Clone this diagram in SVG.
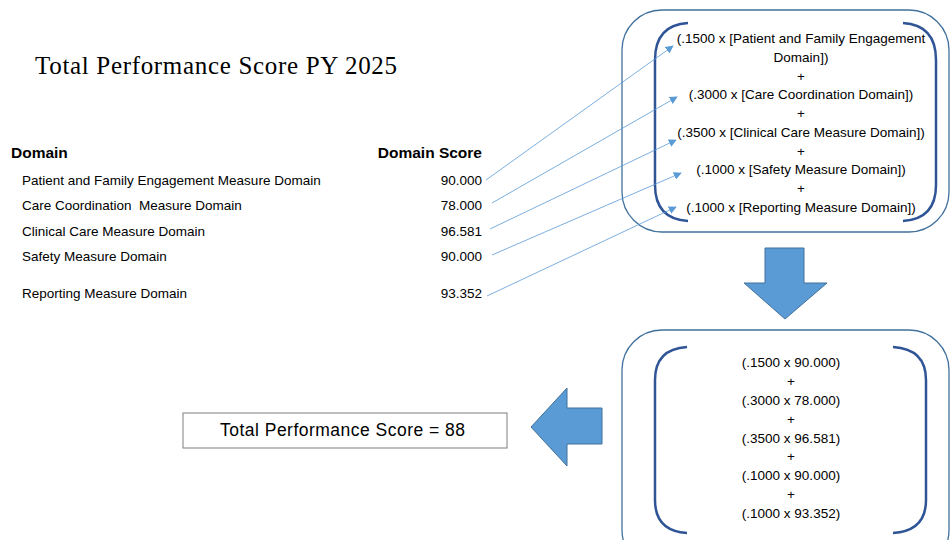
<svg xmlns="http://www.w3.org/2000/svg" width="950" height="540" viewBox="0 0 950 540">
<defs>
<marker id="ah" viewBox="0 0 10 10" refX="9" refY="5" markerWidth="8" markerHeight="8" markerUnits="userSpaceOnUse" orient="auto">
<path d="M0,0 L10,5 L0,10 z" fill="#5B9BD5"/>
</marker>
<style>
.t{font-family:"Liberation Sans",Arial,sans-serif;font-size:13.5px;fill:#000}
.c{text-anchor:middle}
.r{text-anchor:end}
.h{font-family:"Liberation Sans",Arial,sans-serif;font-size:15.5px;font-weight:bold;fill:#000}
.box{fill:none;stroke:#41719C;stroke-width:1.3}
.br{fill:none;stroke:#2F5597;stroke-width:2.5}
.con{stroke:#5B9BD5;stroke-width:0.8;fill:none}
.big{fill:#5B9BD5;stroke:#41719C;stroke-width:1}
</style>
</defs>
<rect width="950" height="540" fill="#fff"/>
<g id="title">
<text x="35" y="74" font-family="'Liberation Serif','Times New Roman',serif" font-size="25" textLength="362" lengthAdjust="spacing">Total Performance Score PY 2025</text>
</g>
<g id="table">
<text class="h" x="11" y="158">Domain</text>
<text class="h r" x="482" y="158">Domain Score</text>
<text class="t" x="22" y="185">Patient and Family Engagement Measure Domain</text>
<text class="t" x="22" y="210" xml:space="preserve">Care Coordination  Measure Domain</text>
<text class="t" x="22" y="236">Clinical Care Measure Domain</text>
<text class="t" x="22" y="261">Safety Measure Domain</text>
<text class="t" x="22" y="298">Reporting Measure Domain</text>
<text class="t r" x="482" y="185">90.000</text>
<text class="t r" x="482" y="210">78.000</text>
<text class="t r" x="482" y="236">96.581</text>
<text class="t r" x="482" y="261">90.000</text>
<text class="t r" x="482" y="298">93.352</text>
</g>
<g id="formula">
<rect class="box" x="622" y="10" width="327" height="222" rx="40"/>
<path class="br" d="M688,23 Q655,25 655,60 L655,185 Q655,219 688,221"/>
<path class="br" d="M903,23 Q936,25 936,60 L936,185 Q936,219 903,221"/>
<text class="t c" x="801" y="43">(.1500 x [Patient and Family Engagement</text>
<text class="t c" x="801" y="62">Domain])</text>
<text class="t c" x="801" y="81">+</text>
<text class="t c" x="801" y="99">(.3000 x [Care Coordination Domain])</text>
<text class="t c" x="801" y="118">+</text>
<text class="t c" x="801" y="137">(.3500 x [Clinical Care Measure Domain])</text>
<text class="t c" x="801" y="156">+</text>
<text class="t c" x="801" y="174">(.1000 x [Safety Measure Domain])</text>
<text class="t c" x="801" y="193">+</text>
<text class="t c" x="801" y="212">(.1000 x [Reporting Measure Domain])</text>
</g>
<g id="calc">
<rect class="box" x="622" y="330" width="327" height="240" rx="40"/>
<path class="br" d="M687,347 Q655,349 655,380 L655,500 Q655,531 687,533"/>
<path class="br" d="M893,347 Q926,349 926,380 L926,500 Q926,531 893,533"/>
<text class="t c" x="791" y="367">(.1500 x 90.000)</text>
<text class="t c" x="791" y="386">+</text>
<text class="t c" x="791" y="405">(.3000 x 78.000)</text>
<text class="t c" x="791" y="424">+</text>
<text class="t c" x="791" y="443">(.3500 x 96.581)</text>
<text class="t c" x="791" y="461">+</text>
<text class="t c" x="791" y="480">(.1000 x 90.000)</text>
<text class="t c" x="791" y="499">+</text>
<text class="t c" x="791" y="518">(.1000 x 93.352)</text>
</g>
<g id="result">
<rect x="183" y="413" width="324" height="35" fill="#fff" stroke="#7F7F7F" stroke-width="1"/>
<text x="220" y="436" font-family="'Liberation Sans',Arial,sans-serif" font-size="17.5" textLength="245" lengthAdjust="spacing">Total Performance Score = 88</text>
</g>
<g id="arrow-down">
<path class="big" d="M765,248 L804,248 L804,283 L827,283 L785,319 L744,283 L765,283 z"/>
</g>
<g id="arrow-left">
<path class="big" d="M602,408 L602,444 L567,444 L567,466 L531,427 L567,388 L567,408 z"/>
</g>
<g id="connectors">
<line class="con" x1="486" y1="180" x2="673" y2="46" marker-end="url(#ah)"/>
<line class="con" x1="492" y1="203" x2="677" y2="97" marker-end="url(#ah)"/>
<line class="con" x1="490" y1="229" x2="676" y2="140" marker-end="url(#ah)"/>
<line class="con" x1="492" y1="255" x2="681" y2="173" marker-end="url(#ah)"/>
<line class="con" x1="487" y1="296" x2="676" y2="207" marker-end="url(#ah)"/>
</g>
</svg>
